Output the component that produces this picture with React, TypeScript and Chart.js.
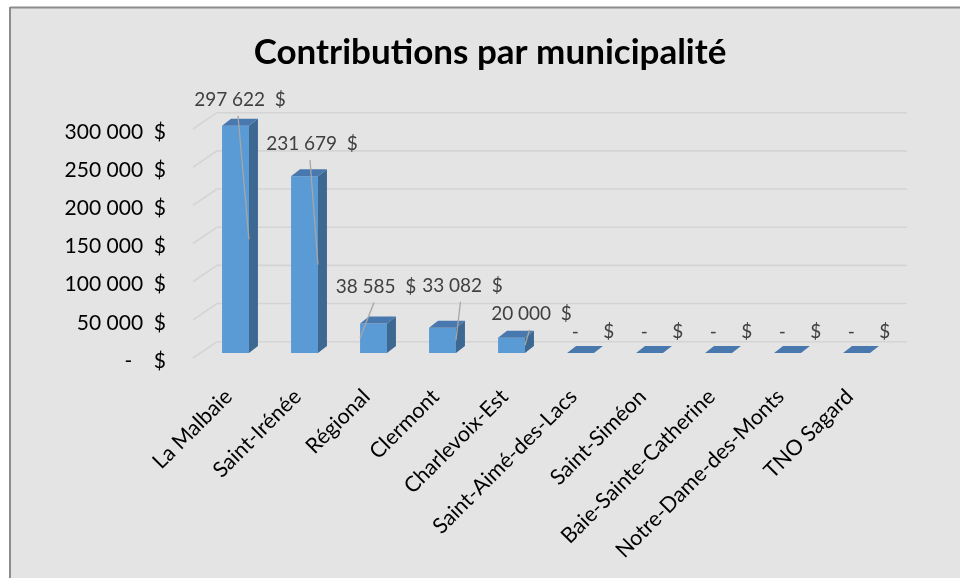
import React, { useEffect, useRef } from "react";
import { Chart, registerables } from "chart.js";

Chart.register(...registerables);

const title = "Contributions par municipalité";
const categories = [
  "La Malbaie",
  "Saint-Irénée",
  "Régional",
  "Clermont",
  "Charlevoix-Est",
  "Saint-Aimé-des-Lacs",
  "Saint-Siméon",
  "Baie-Sainte-Catherine",
  "Notre-Dame-des-Monts",
  "TNO Sagard",
];
const contributions = [297622, 231679, 38585, 33082, 20000, 0, 0, 0, 0, 0];
const yTicks = [0, 50000, 100000, 150000, 200000, 250000, 300000];

// layout of data labels (offset from the top-centre of each bar) and leader line side
const labelOffsets: [number, number][] = [
  [4.5, -26],
  [7.5, -32],
  [2.5, -37],
  [20, -42],
  [20, -24],
  [12.5, -21],
  [12.5, -21],
  [12.5, -21],
  [12.5, -21],
  [12.5, -21],
];
const leaderSide: (number | null)[] = [1, 1, 0, 1, 1, null, null, null, null, null];

const FONT = "Lato, 'Open Sans', sans-serif";
const DEPTH_X = 9;
const DEPTH_Y = -7;

function fmtMoney(v: number, zeroSpaces: string): string {
  if (v === 0) return "-" + zeroSpaces + "$";
  const s = Math.round(v)
    .toString()
    .replace(/\B(?=(\d{3})+(?!\d))/g, " ");
  return s + "  $";
}

const backgroundPlugin = {
  id: "bgPlugin",
  beforeDraw(chart: any) {
    const ctx = chart.ctx;
    ctx.save();
    ctx.fillStyle = "#ffffff";
    ctx.fillRect(0, 0, chart.width, chart.height);
    ctx.fillStyle = "#e4e4e4";
    ctx.fillRect(10, 7, chart.width - 10, chart.height - 7);
    ctx.strokeStyle = "#8c8c8c";
    ctx.lineWidth = 2;
    ctx.beginPath();
    ctx.moveTo(10, 7);
    ctx.lineTo(10, chart.height);
    ctx.moveTo(10, 7.5);
    ctx.lineTo(chart.width, 7.5);
    ctx.stroke();
    // title
    ctx.fillStyle = "#000000";
    ctx.font = `bold 35px ${FONT}`;
    ctx.textAlign = "center";
    ctx.textBaseline = "middle";
    ctx.fillText(title, 490, 53);
    ctx.restore();
  },
};

const wallPlugin = {
  id: "wallPlugin",
  beforeDatasetsDraw(chart: any) {
    const ctx = chart.ctx;
    const ys = chart.scales.y;
    const { left, right } = chart.chartArea;
    ctx.save();
    ctx.strokeStyle = "#d4d4d4";
    ctx.lineWidth = 1.6;
    yTicks.forEach((v) => {
      const py = ys.getPixelForValue(v);
      ctx.beginPath();
      ctx.moveTo(left - 8, py + 5);
      ctx.lineTo(left + 16, py - 11.3);
      ctx.lineTo(right + 16, py - 11.3);
      ctx.stroke();
    });
    ctx.restore();
  },
};

const bar3dPlugin = {
  id: "bar3dPlugin",
  afterDatasetsDraw(chart: any) {
    const ctx = chart.ctx;
    const meta = chart.getDatasetMeta(0);
    ctx.save();
    meta.data.forEach((bar: any) => {
      const { x, y, base, width } = bar.getProps(["x", "y", "base", "width"], true);
      const l = x - width / 2;
      const r = x + width / 2;
      if (base - y > 0.5) {
        ctx.fillStyle = "#3c6891";
        ctx.beginPath();
        ctx.moveTo(r, y);
        ctx.lineTo(r + DEPTH_X, y + DEPTH_Y);
        ctx.lineTo(r + DEPTH_X, base + DEPTH_Y);
        ctx.lineTo(r, base);
        ctx.closePath();
        ctx.fill();
      }
      ctx.fillStyle = "#4878ad";
      ctx.beginPath();
      ctx.moveTo(l, y);
      ctx.lineTo(l + DEPTH_X, y + DEPTH_Y);
      ctx.lineTo(r + DEPTH_X, y + DEPTH_Y);
      ctx.lineTo(r, y);
      ctx.closePath();
      ctx.fill();
    });
    ctx.restore();
  },
};

const labelPlugin = {
  id: "labelPlugin",
  afterDatasetsDraw(chart: any) {
    const ctx = chart.ctx;
    const meta = chart.getDatasetMeta(0);
    const data = chart.data.datasets[0].data as number[];
    ctx.save();
    meta.data.forEach((bar: any, i: number) => {
      const { x, y, base, width } = bar.getProps(["x", "y", "base", "width"], true);
      const [ox, oy] = labelOffsets[i];
      const lx = x + ox;
      const ly = y + oy;
      const side = leaderSide[i];
      if (side !== null) {
        ctx.strokeStyle = "#a6a6a6";
        ctx.lineWidth = 1.3;
        ctx.beginPath();
        ctx.moveTo(lx - 2, ly + 16);
        ctx.lineTo(side ? x + width / 2 : x - width / 2, (y + base) / 2);
        ctx.stroke();
      }
      ctx.fillStyle = "#404040";
      ctx.font = `19px ${FONT}`;
      ctx.textAlign = "center";
      ctx.textBaseline = "middle";
      ctx.fillText(fmtMoney(data[i], "     "), lx, ly);
    });
    ctx.restore();
  },
};

export default function App() {
  const ref = useRef<HTMLCanvasElement | null>(null);
  useEffect(() => {
    if (!ref.current) return;
    const chart = new Chart(ref.current, {
      type: "bar",
      data: {
        labels: categories,
        datasets: [
          {
            data: contributions,
            backgroundColor: "#5b9bd5",
            borderWidth: 0,
            barPercentage: 0.39,
            categoryPercentage: 1,
          },
        ],
      },
      options: {
        responsive: false,
        animation: false,
        layout: { padding: { top: 124, right: 69, bottom: 0, left: 0 } },
        plugins: {
          legend: { display: false },
          title: { display: false },
          tooltip: { enabled: false },
        },
        scales: {
          x: {
            grid: { display: false, drawTicks: false },
            border: { display: false },
            ticks: {
              autoSkip: false,
              maxRotation: 45,
              minRotation: 45,
              padding: 31,
              labelOffset: -7,
              color: "#000000",
              font: { family: FONT, size: 21.5 },
            },
            afterFit: (s: any) => {
              s.height = 225;
            },
          },
          y: {
            min: 0,
            max: 300000,
            grid: { display: false, drawTicks: false },
            border: { display: false },
            afterBuildTicks: (s: any) => {
              s.ticks = yTicks.map((v) => ({ value: v }));
            },
            ticks: {
              padding: 35,
              labelOffset: 8,
              color: "#000000",
              font: { family: FONT, size: 21 },
              callback: (v: any) => fmtMoney(Number(v), "    "),
            },
            afterFit: (s: any) => {
              s.width = 201;
            },
          },
        },
      },
      plugins: [backgroundPlugin, wallPlugin, bar3dPlugin, labelPlugin],
    });
    return () => chart.destroy();
  }, []);
  return (
    <div style={{ position: "fixed", left: 0, top: 0, width: 960, height: 578 }}>
      <canvas ref={ref} width={960} height={578} style={{ display: "block", width: 960, height: 578 }} />
    </div>
  );
}
